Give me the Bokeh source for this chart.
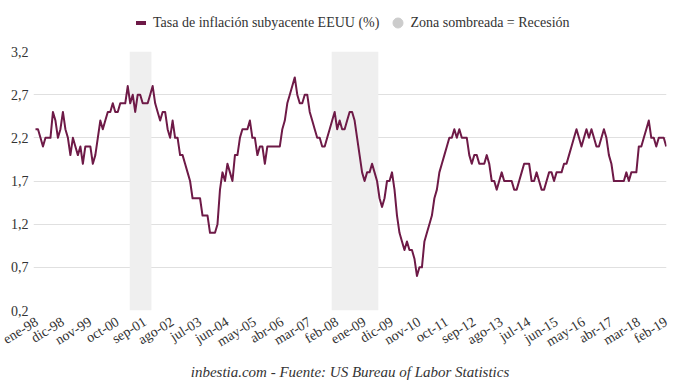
import math
from bokeh.plotting import figure
from bokeh.layouts import column
from bokeh.models import (Range1d, FixedTicker, CustomJSTickFormatter, BoxAnnotation,
                          Legend, LegendItem, Title)
from bokeh.embed import file_html
from bokeh.resources import INLINE

# ---- data: US core inflation YoY (%), monthly Jan-1998 .. Feb-2019 ----
y1998 = [2.3, 2.3, 2.2, 2.1, 2.2, 2.2, 2.2, 2.5, 2.4, 2.2, 2.3, 2.5]
y1999 = [2.3, 2.2, 2.0, 2.2, 2.1, 2.0, 2.1, 1.9, 2.1, 2.1, 2.1, 1.9]
y2000 = [2.0, 2.2, 2.4, 2.3, 2.4, 2.5, 2.5, 2.6, 2.5, 2.5, 2.6, 2.6]
y2001 = [2.6, 2.8, 2.6, 2.7, 2.5, 2.7, 2.7, 2.6, 2.6, 2.6, 2.7, 2.8]
y2002 = [2.6, 2.5, 2.4, 2.5, 2.5, 2.3, 2.2, 2.4, 2.2, 2.2, 2.0, 2.0]
y2003 = [1.9, 1.8, 1.7, 1.5, 1.5, 1.5, 1.5, 1.3, 1.3, 1.3, 1.1, 1.1]
y2004 = [1.1, 1.2, 1.6, 1.8, 1.7, 1.9, 1.8, 1.7, 2.0, 2.0, 2.2, 2.3]
y2005 = [2.3, 2.3, 2.4, 2.2, 2.2, 2.0, 2.1, 2.1, 1.9, 2.1, 2.1, 2.1]
y2006 = [2.1, 2.1, 2.1, 2.3, 2.4, 2.6, 2.7, 2.8, 2.9, 2.7, 2.6, 2.6]
y2007 = [2.7, 2.7, 2.5, 2.4, 2.3, 2.2, 2.2, 2.1, 2.1, 2.2, 2.3, 2.4]
y2008 = [2.5, 2.3, 2.4, 2.3, 2.3, 2.4, 2.5, 2.5, 2.4, 2.2, 2.0, 1.8]
y2009 = [1.7, 1.8, 1.8, 1.9, 1.8, 1.7, 1.5, 1.4, 1.5, 1.7, 1.7, 1.8]
y2010 = [1.6, 1.3, 1.1, 1.0, 0.9, 1.0, 0.9, 0.9, 0.8, 0.6, 0.7, 0.7]
y2011 = [1.0, 1.1, 1.2, 1.3, 1.5, 1.6, 1.8, 1.9, 2.0, 2.1, 2.2, 2.2]
y2012 = [2.3, 2.2, 2.3, 2.2, 2.2, 2.2, 2.0, 1.9, 2.0, 2.0, 1.9, 1.9]
y2013 = [1.9, 2.0, 1.9, 1.7, 1.7, 1.6, 1.7, 1.8, 1.7, 1.7, 1.7, 1.7]
y2014 = [1.6, 1.6, 1.7, 1.8, 1.9, 1.9, 1.9, 1.7, 1.7, 1.8, 1.7, 1.6]
y2015 = [1.6, 1.7, 1.8, 1.8, 1.7, 1.8, 1.8, 1.8, 1.9, 1.9, 2.0, 2.1]
y2016 = [2.2, 2.3, 2.2, 2.1, 2.2, 2.3, 2.2, 2.3, 2.2, 2.1, 2.1, 2.2]
y2017 = [2.3, 2.2, 2.0, 1.9, 1.7, 1.7, 1.7, 1.7, 1.7, 1.8, 1.7, 1.8]
y2018 = [1.8, 1.8, 2.1, 2.1, 2.2, 2.3, 2.4, 2.2, 2.2, 2.1, 2.2, 2.2]
y2019 = [2.2, 2.1]

first_year = 1998
month_names = ["ene", "feb", "mar", "abr", "may", "jun",
               "jul", "ago", "sep", "oct", "nov", "dic"]
x_tick_labels = ["ene-98", "dic-98", "nov-99", "oct-00", "sep-01", "ago-02",
                 "jul-03", "jun-04", "may-05", "abr-06", "mar-07", "feb-08",
                 "ene-09", "dic-09", "nov-10", "oct-11", "sep-12", "ago-13",
                 "jul-14", "jun-15", "may-16", "abr-17", "mar-18", "feb-19"]
y_ticks = [0.2, 0.7, 1.2, 1.7, 2.2, 2.7, 3.2]

# recessions (first and last month)
rec_start = [(2001, 3), (2007, 12)]
rec_end = [(2001, 11), (2009, 6)]

series_label = "Tasa de inflación subyacente EEUU (%)"
shade_label = "Zona sombreada = Recesión"
footer = "inbestia.com - Fuente: US Bureau of Labor Statistics"

# ---- build ----
values = (y1998 + y1999 + y2000 + y2001 + y2002 + y2003 + y2004 + y2005 + y2006 +
          y2007 + y2008 + y2009 + y2010 + y2011 + y2012 + y2013 + y2014 + y2015 +
          y2016 + y2017 + y2018 + y2019)
idx = list(range(len(values)))

def month_index(ym):
    return (ym[0] - first_year) * 12 + (ym[1] - 1)

def label_of(i):
    return f"{month_names[i % 12]}-{(first_year + i // 12) % 100:02d}"

tick_pos = [i for i in idx if label_of(i) in x_tick_labels]

FONT = "Liberation Serif"
TXT = "#333333"
LINE = "#6e1a47"
SHADE = "#efefef"
NAN = float("nan")

# ---------- legend strip ----------
lg = figure(width=680, height=40, output_backend="svg", toolbar_location=None,
            title=None, x_range=Range1d(0, 1), y_range=Range1d(0, 1),
            x_axis_location=None, y_axis_location=None, min_border=0)
lg.outline_line_color = None
lg.grid.visible = False
leg_bar = lg.scatter(x=[NAN], y=[NAN], marker="dash", line_color=LINE, line_width=4)
leg_dot = lg.scatter(x=[NAN], y=[NAN], marker="circle", fill_color="#cccccc",
                     line_color="#cccccc")
legend = Legend(items=[LegendItem(label=series_label, renderers=[leg_bar]),
                       LegendItem(label=shade_label, renderers=[leg_dot])],
                orientation="horizontal", location=(95, 5),
                glyph_width=25, glyph_height=25, label_standoff=0, spacing=6,
                padding=0, margin=0, border_line_color=None, background_fill_alpha=0,
                label_text_font=FONT, label_text_font_size="14px", label_text_color=TXT)
lg.add_layout(legend)

# ---------- main chart ----------
p = figure(width=680, height=344, output_backend="svg", toolbar_location=None, title=None,
           x_range=Range1d(-0.8, idx[-1] + 0.1), y_range=Range1d(y_ticks[0], y_ticks[-1]),
           min_border_left=33, min_border_right=14, min_border_top=11, min_border_bottom=74)
p.outline_line_color = None

for s, e in zip(rec_start, rec_end):
    p.add_layout(BoxAnnotation(left=month_index(s) - 0.2, right=month_index(e) + 0.5,
                               fill_color=SHADE, fill_alpha=1.0, line_color=None,
                               level="underlay"))

p.line(idx, values, line_color=LINE, line_width=2, line_join="round")

p.xgrid.grid_line_color = None
p.ygrid.grid_line_color = "#e0e0e0"
p.ygrid.grid_line_width = 1

p.yaxis.ticker = FixedTicker(ticks=y_ticks)
p.yaxis.formatter = CustomJSTickFormatter(code="return tick.toFixed(1).replace('.', ',');")
p.xaxis.ticker = FixedTicker(ticks=tick_pos)
p.xaxis.major_label_overrides = {i: label_of(i) for i in tick_pos}
p.xaxis.major_label_orientation = 0.55

for ax in (p.xaxis, p.yaxis):
    ax.axis_line_color = None
    ax.major_tick_line_color = None
    ax.minor_tick_line_color = None
    ax.major_tick_out = 0
    ax.major_tick_in = 0
    ax.major_label_text_font = FONT
    ax.major_label_text_font_size = "14px"
    ax.major_label_text_color = TXT
p.yaxis.major_label_standoff = 5
p.xaxis.major_label_standoff = 10

p.add_layout(Title(text=footer, align="center", text_font=FONT, text_font_size="15px",
                   text_font_style="italic", text_color=TXT, standoff=7), "below")

layout = column(lg, p, spacing=0)
open("out.html", "w").write(file_html(layout, INLINE))
